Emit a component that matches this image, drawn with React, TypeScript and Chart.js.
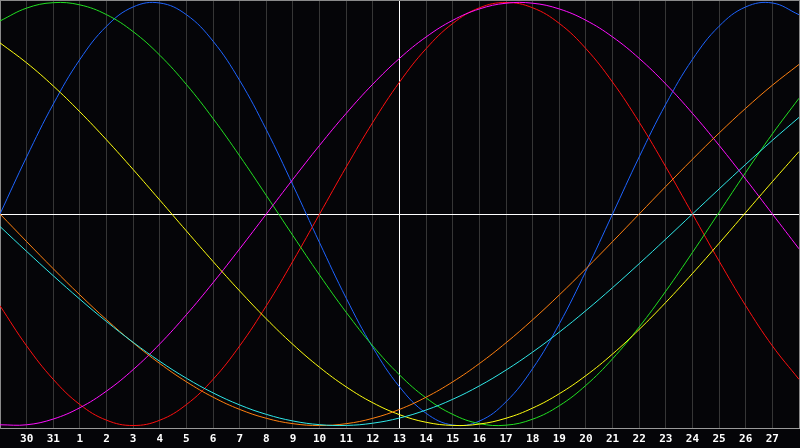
import React, { useEffect, useRef } from "react";
import { Chart, registerables } from "chart.js";

Chart.register(...registerables);

// Day labels along the x axis (index 0 = first day at left edge, index 30 = right edge)
const dayLabels: string[] = [
  "29", "30", "31", "1", "2", "3", "4", "5", "6", "7", "8", "9", "10", "11", "12",
  "13", "14", "15", "16", "17", "18", "19", "20", "21", "22", "23", "24", "25", "26", "27", "28",
];

const todayIndex = 15;

// Biorhythm series values (-1 .. 1), read per day
const physical = [
  0, 0.2698, 0.5196, 0.7308, 0.8879, 0.9791, 0.9977, 0.9423, 0.817, 0.6311, 0.3984,
  0.1362, -0.1362, -0.3984, -0.6311, -0.817, -0.9423, -0.9977, -0.9791, -0.8879, -0.7308,
  -0.5196, -0.2698, 0, 0.2698, 0.5196, 0.7308, 0.8879, 0.9791, 0.9977, 0.9423,
];
const emotional = [
  -0.4339, -0.6235, -0.7818, -0.901, -0.9749, -1.0, -0.9749, -0.901, -0.7818, -0.6235, -0.4339,
  -0.2225, 0, 0.2225, 0.4339, 0.6235, 0.7818, 0.901, 0.9749, 1.0, 0.9749,
  0.901, 0.7818, 0.6235, 0.4339, 0.2225, 0, -0.2225, -0.4339, -0.6235, -0.7818,
];
const intellectual = [
  0.9127, 0.9736, 0.9992, 0.9887, 0.9425, 0.8621, 0.7506, 0.6121, 0.4514, 0.2744, 0.0875,
  -0.1026, -0.289, -0.465, -0.6242, -0.7607, -0.8698, -0.9475, -0.9909, -0.9985, -0.97,
  -0.9064, -0.81, -0.6845, -0.5342, -0.3645, -0.1817, 0.0077, 0.1968, 0.3788, 0.5472,
];
const intuitive = [
  -0.9966, -0.9966, -0.9694, -0.9158, -0.8372, -0.7357, -0.6142, -0.4759, -0.3247, -0.1646, 0,
  0.1646, 0.3247, 0.4759, 0.6142, 0.7357, 0.8372, 0.9158, 0.9694, 0.9966, 0.9966,
  0.9694, 0.9158, 0.8372, 0.7357, 0.6142, 0.4759, 0.3247, 0.1646, 0, -0.1646,
];
const aesthetic = [
  0.809, 0.7147, 0.6053, 0.483, 0.3504, 0.2103, 0.0657, -0.0803, -0.2246, -0.364, -0.4958,
  -0.6169, -0.7249, -0.8173, -0.8927, -0.9488, -0.9847, -0.9996, -0.9932, -0.9656, -0.9175,
  -0.8497, -0.764, -0.6619, -0.5457, -0.4178, -0.2811, -0.1384, 0.0073, 0.1528, 0.2951,
];
const awareness = [
  0, -0.1305, -0.2588, -0.3827, -0.5, -0.6088, -0.7071, -0.7934, -0.866, -0.9239, -0.9659,
  -0.9914, -1.0, -0.9914, -0.9659, -0.9239, -0.866, -0.7934, -0.7071, -0.6088, -0.5,
  -0.3827, -0.2588, -0.1305, 0, 0.1305, 0.2588, 0.3827, 0.5, 0.6088, 0.7071,
];
const spiritual = [
  -0.0592, -0.1769, -0.292, -0.4031, -0.5085, -0.6068, -0.6966, -0.7767, -0.8457, -0.9028, -0.9473,
  -0.9786, -0.996, -0.9996, -0.989, -0.9646, -0.9267, -0.8759, -0.8126, -0.7378, -0.6527,
  -0.5585, -0.4566, -0.3482, -0.2349, -0.1183, 0, 0.1183, 0.2349, 0.3482, 0.4566,
];

const Y_LIMIT = 1.0118;

export default function App() {
  const canvasRef = useRef<HTMLCanvasElement | null>(null);

  useEffect(() => {
    document.body.style.margin = "0";
    document.body.style.background = "#050508";
    const canvas = canvasRef.current;
    if (!canvas) return;

    const mk = (label: string, data: number[], color: string) => ({
      label,
      data,
      borderColor: color,
      backgroundColor: color,
      borderWidth: 1,
      pointRadius: 0,
      pointHoverRadius: 0,
      tension: 0.4,
      fill: false,
    });

    const chart = new Chart(canvas, {
      type: "line",
      data: {
        labels: dayLabels,
        datasets: [
          mk("Spiritual", spiritual, "#30e8e8"),
          mk("Awareness", awareness, "#ff8010"),
          mk("Aesthetic", aesthetic, "#ffff10"),
          mk("Intuitive", intuitive, "#ff10ff"),
          mk("Intellectual", intellectual, "#22e022"),
          mk("Emotional", emotional, "#ff1010"),
          mk("Physical", physical, "#1e64ff"),
        ],
      },
      options: {
        animation: false,
        responsive: false,
        devicePixelRatio: 1,
        layout: { padding: { left: 0, right: 1, top: 0, bottom: 0 } },
        plugins: {
          legend: { display: false },
          tooltip: { enabled: false },
          title: { display: false },
        },
        events: [],
        scales: {
          x: {
            type: "category",
            offset: false,
            afterFit: (scale: any) => {
              scale.height = 20;
              scale.paddingLeft = 0;
              scale.paddingRight = 0;
            },
            grid: {
              drawTicks: false,
              lineWidth: 1,
              color: (ctx: any) => {
                const i = ctx.index;
                if (i === todayIndex) return "#ffffff";
                if (i === 0 || i === dayLabels.length - 1) return "#8a8a8a";
                return "#363636";
              },
            },
            border: { display: true, color: "#9a9a9a", width: 1 },
            ticks: {
              autoSkip: false,
              maxRotation: 0,
              minRotation: 0,
              padding: 5,
              color: "#ffffff",
              font: { family: "'DejaVu Sans Mono', monospace", size: 11, weight: "bold" },
              callback: (_v: any, i: number) =>
                i === 0 || i === dayLabels.length - 1 ? "" : dayLabels[i],
            },
          },
          y: {
            min: -Y_LIMIT,
            max: Y_LIMIT,
            afterFit: (scale: any) => {
              scale.width = 0;
              scale.paddingTop = 0;
              scale.paddingBottom = 0;
            },
            afterBuildTicks: (scale: any) => {
              scale.ticks = [{ value: -Y_LIMIT }, { value: 0 }, { value: Y_LIMIT }];
            },
            grid: {
              drawTicks: false,
              lineWidth: 1,
              color: (ctx: any) => (ctx.tick && ctx.tick.value === 0 ? "#ffffff" : "#8a8a8a"),
            },
            border: { display: true, color: "#8a8a8a", width: 1 },
            ticks: { display: false },
          },
        },
      },
    } as any);

    return () => {
      chart.destroy();
    };
  }, []);

  return (
    <div style={{ width: 800, height: 448, background: "#050508" }}>
      <canvas ref={canvasRef} width={800} height={448} style={{ display: "block", width: 800, height: 448 }} />
    </div>
  );
}
